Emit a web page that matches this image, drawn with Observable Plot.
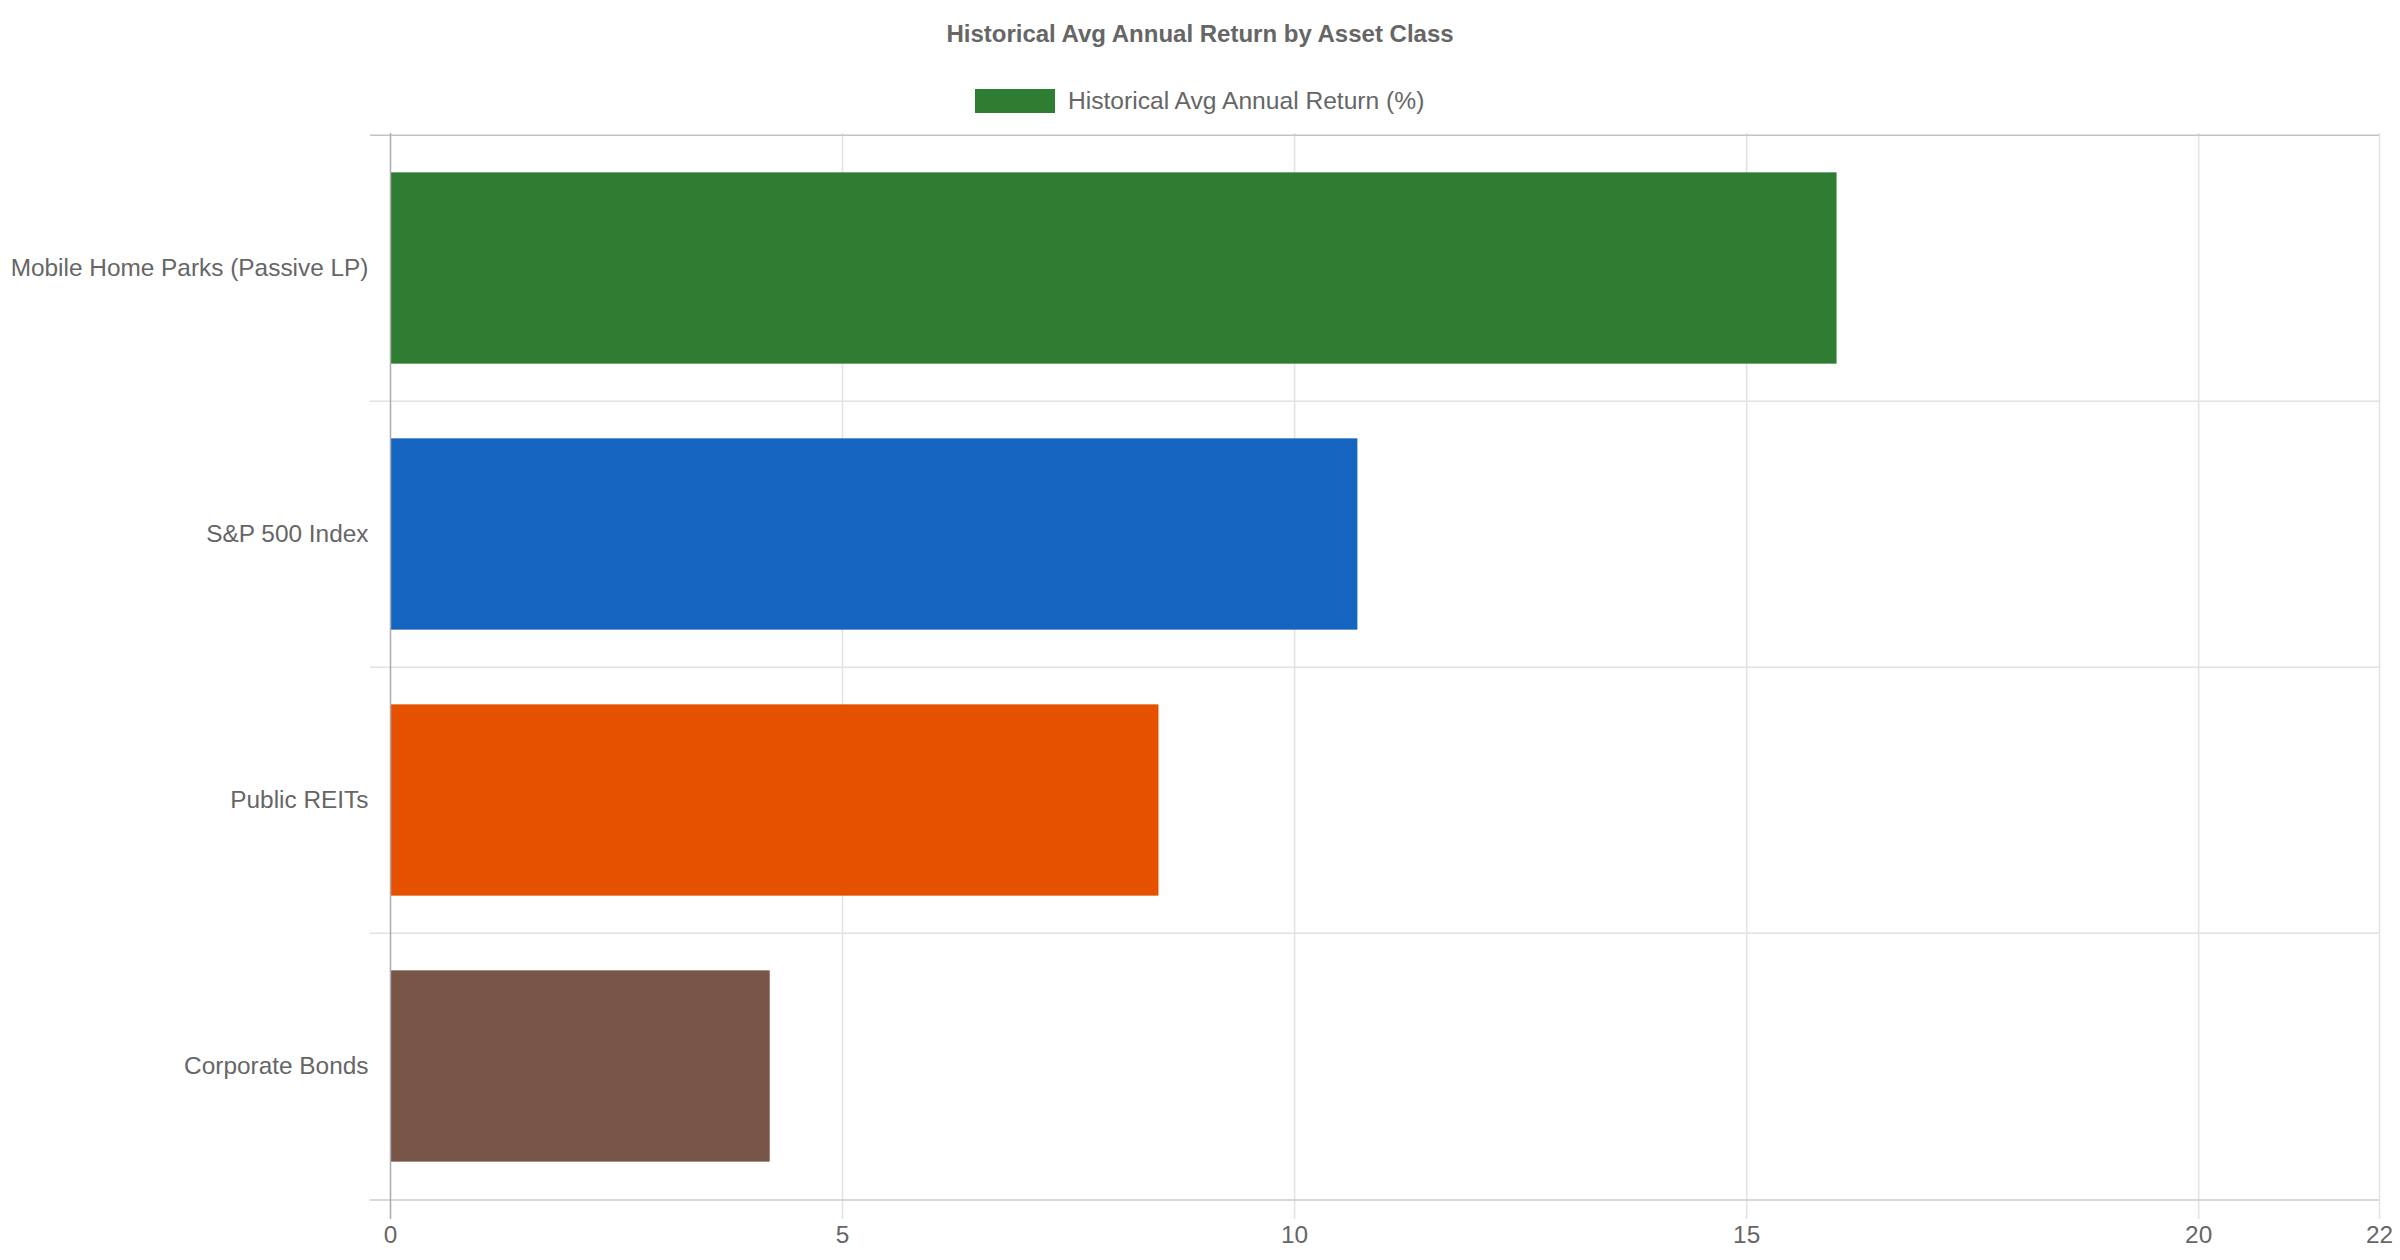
<!DOCTYPE html>
<html>
<head>
<meta charset="utf-8">
<script src="https://cdn.jsdelivr.net/npm/d3@7"></script>
<script src="https://cdn.jsdelivr.net/npm/@observablehq/plot@0.6"></script>
<style>
  html, body { margin: 0; padding: 0; background: #fff; }
  #wrap { position: relative; width: 2400px; height: 1260px; font-family: "Liberation Sans", Arial, sans-serif; color: #666; }
  #title { position: absolute; left: 1200px; top: 34px; transform: translate(-50%, -50%); font-size: 24px; font-weight: bold; white-space: nowrap; }
  #legend { position: absolute; left: 975px; top: 100.5px; transform: translateY(-50%); display: flex; align-items: center; white-space: nowrap; font-size: 24.6px; }
  #legend .sw { width: 80px; height: 24px; margin-right: 13px; }
  #chart { position: absolute; left: 0; top: 120px; }
</style>
</head>
<body>
<div id="wrap">
  <div id="title"></div>
  <div id="legend"><div class="sw"></div><span class="lab"></span></div>
  <div id="chart"></div>
</div>
<script>
const titleText = "Historical Avg Annual Return by Asset Class";
const seriesName = "Historical Avg Annual Return (%)";
const categories = ["Mobile Home Parks (Passive LP)", "S&P 500 Index", "Public REITs", "Corporate Bonds"];
const values = [16.0, 10.7, 8.5, 4.2];
const colors = ["#2e7d32", "#1565c0", "#e65100", "#795548"];
const xTicks = [0, 5, 10, 15, 20, 22];

document.getElementById("title").textContent = titleText;
document.querySelector("#legend .sw").style.background = colors[0];
document.querySelector("#legend .lab").textContent = seriesName;

const data = categories.map((c, i) => ({category: c, value: values[i], color: colors[i]}));

const width = 2400, height = 1140;
const marginTop = 13, marginBottom = 60, marginLeft = 390, marginRight = 21;
const band = (height - marginTop - marginBottom) / categories.length;
const barInset = band * 0.14;

const chart = Plot.plot({
  width, height, marginTop, marginBottom, marginLeft, marginRight,
  style: {fontFamily: '"Liberation Sans", Arial, sans-serif', fontSize: "24.4px", color: "#666", background: "#fff"},
  x: {domain: [0, 22], ticks: xTicks, tickSize: 0, tickPadding: 25, label: null, tickFormat: d => String(d)},
  y: {domain: categories, padding: 0, tickSize: 0, tickPadding: 22, label: null},
  marks: [
    Plot.ruleX(xTicks.filter(t => t !== 0), {x: d => d, stroke: "#e2e2e2", strokeWidth: 1.5, strokeOpacity: 1, insetBottom: -19}),
    Plot.ruleY(categories.slice(1), {y: d => d, dy: -band / 2, stroke: "#e2e2e2", strokeWidth: 1.5, strokeOpacity: 1, insetLeft: -20}),
    Plot.ruleY(categories.slice(0, 1), {y: d => d, dy: -band / 2, stroke: "#c4c4c4", strokeWidth: 1.5, strokeOpacity: 1, insetLeft: -20}),
    Plot.ruleY(categories.slice(-1), {y: d => d, dy: band / 2, stroke: "#cccccc", strokeWidth: 1.5, strokeOpacity: 1, insetLeft: -20}),
    Plot.barX(data, {y: "category", x: "value", fill: "color", insetTop: barInset, insetBottom: barInset}),
    Plot.ruleX([0], {stroke: "#aaa", strokeWidth: 1.5, strokeOpacity: 1, insetBottom: -19})
  ]
});
chart.querySelectorAll("g[aria-label='x-axis tick label'] text, g[aria-label='y-axis tick label'] text").forEach(t => t.setAttribute("fill", "#666"));
document.getElementById("chart").appendChild(chart);
</script>
</body>
</html>
